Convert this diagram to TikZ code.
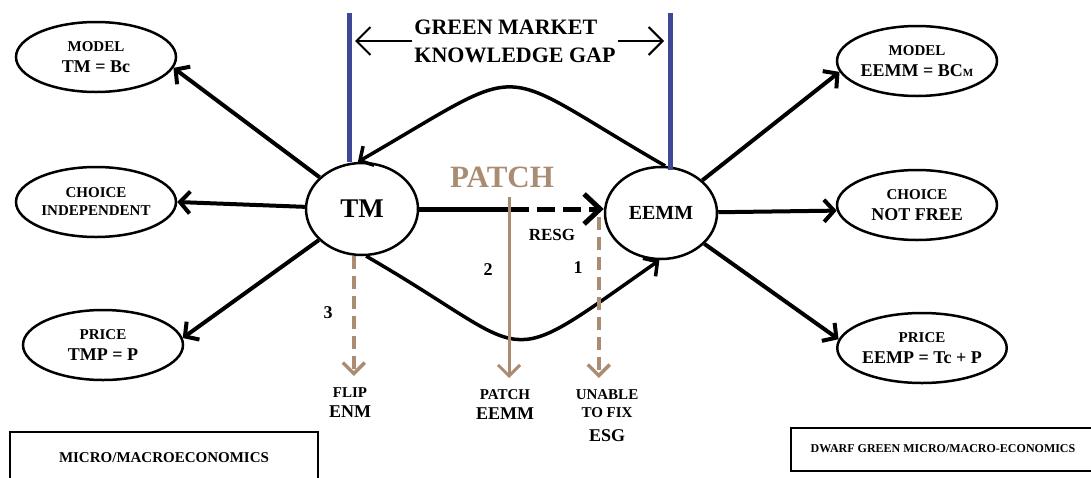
\documentclass[tikz,border=0pt]{standalone}
\usepackage{fontspec}
\setmainfont{Liberation Serif}
\usetikzlibrary{shapes.geometric,arrows.meta}
\definecolor{gapblue}{RGB}{62,72,150}
\definecolor{patchbrown}{RGB}{170,140,115}
\newcommand{\bigline}[1]{{\fontsize{18}{20}\selectfont #1}}

\begin{document}
\begin{tikzpicture}[x=1pt,y=-1pt,
  oval/.style={draw, ellipse, line width=2.5pt, minimum width=160pt, minimum height=70pt, inner sep=0pt, align=center, font=\bfseries\fontsize{15}{21}\selectfont},
  hub/.style={draw, ellipse, line width=2.5pt, minimum width=112pt, minimum height=92pt, inner sep=0pt},
  lbl/.style={align=center, inner sep=0pt, font=\bfseries\fontsize{15}{20}\selectfont},
  link/.style={line width=4pt, -{Straight Barb[length=10pt,width=22pt]}},
  drop/.style={patchbrown, line width=3.5pt, shorten >=11pt, -{Straight Barb[length=11pt,width=22pt]}},
  labelbox/.style={draw, rectangle, line width=2pt, inner sep=0pt, font=\bfseries}]
\useasboundingbox (0,0) rectangle (1091,477);
\clip (0,0) rectangle (1091,477);

% hubs
\node (tm) [hub, font=\bfseries\fontsize{27}{27}\selectfont] at (362,209) {TM};
\node (eemm) [hub, font=\bfseries\fontsize{20}{20}\selectfont] at (661,213) {EEMM};

% left ovals
\node (modelL) [oval] at (96,57) {MODEL\\\bigline{TM = Bc}};
\node (choiceL) [oval] at (96,202) {CHOICE\\[-3pt]INDEPENDENT};
\node (priceL) [oval] at (103,345) {PRICE\\\bigline{TMP = P}};

% right ovals
\node (modelR) [oval] at (917,61) {MODEL\\\bigline{EEMM = BC{\fontsize{11}{11}\selectfont M}}};
\node (choiceR) [oval] at (917,205) {CHOICE\\\bigline{NOT FREE}};
\node (priceR) [oval] at (922,348) {PRICE\\\bigline{EEMP = Tc + P}};

\draw[link] (tm) -- (modelL.-8);
\draw[link] (tm) -- (choiceL.east);
\draw[link] (tm) -- (priceL.5);
\draw[link] (eemm) -- (modelR.188);
\draw[link] (eemm) -- (choiceR.184);
\draw[link] (eemm) -- (priceR.174);

% knowledge gap
\node (gap) [font=\bfseries\fontsize{22}{28}\selectfont, align=left, inner sep=2pt] at (515,41) {GREEN MARKET\\KNOWLEDGE GAP};
\coordinate (gapL) at (349,13);
\coordinate (gapR) at (670,13);
\draw[gapblue, line width=5pt] (gapL) -- (gapL |- tm.north);
\draw[gapblue, line width=5pt] (gapR) -- ([yshift=-4pt]gapR |- eemm.north);
\draw[line width=2pt, shorten >=6pt, -{Straight Barb[length=14pt,width=28pt]}] (gap.west) -- (gap.west -| gapL);
\draw[line width=2pt, shorten >=6pt, -{Straight Barb[length=14pt,width=28pt]}] (gap.east) -- (gap.east -| gapR);

% arcs
\draw[link, line width=3.5pt] (eemm.85) to[out=150, in=30, looseness=1.7] (tm.95);
\draw[link, line width=3.5pt] (tm.-85) to[out=-30, in=215, looseness=1.75] (eemm.-92);

% middle arrow
\coordinate (split) at (511,209);
\draw[line width=5pt] (tm.east) -- (split);
\draw[line width=5pt, dash pattern=on 18pt off 8pt, -{Straight Barb[length=16pt,width=30pt]}] (split) -- (split -| eemm.west);
\node (resg) [font=\bfseries\fontsize{17}{17}\selectfont] at (552,235) {RESG};

% patch
\node (patch) [patchbrown, font=\bfseries\fontsize{31}{31}\selectfont] at (502,177) {PATCH};
\node (flip) [lbl, anchor=north] at (350,387) {FLIP\\\bigline{ENM}};
\node (patchlbl) [lbl, anchor=north] at (505,389) {PATCH\\\bigline{EEMM}};
\node (unable) [lbl, anchor=north] at (607,389) {UNABLE\\[-2pt]TO FIX\\[4pt]\bigline{ESG}};
\coordinate (esg) at ([shift={(-5,4)}]eemm.west);
\draw[drop, dash pattern=on 13pt off 7pt] (tm.-100) -- (tm.-100 |- flip.north);
\draw[drop, line width=3pt] ([shift={(7,6)}]patch.south) -- ([xshift=7pt]patch.south |- patchlbl.north);
\draw[drop, dash pattern=on 13pt off 7pt] (esg) -- (esg |- unable.north);
\node (n3) [lbl, font=\bfseries\fontsize{18}{18}\selectfont] at (328,313) {3};
\node (n2) [lbl, font=\bfseries\fontsize{18}{18}\selectfont] at (488,270) {2};
\node (n1) [lbl, font=\bfseries\fontsize{18}{18}\selectfont] at (578,268) {1};

% bottom boxes
\node (micro) [labelbox, minimum width=308pt, minimum height=52pt, font=\bfseries\fontsize{15}{15}\selectfont] at (164,458) {MICRO/MACROECONOMICS};
\node (dwarf) [labelbox, minimum width=305pt, minimum height=43pt, font=\bfseries\fontsize{12}{12}\selectfont] at (943,449) {DWARF GREEN MICRO/MACRO-ECONOMICS};
\end{tikzpicture}
\end{document}
